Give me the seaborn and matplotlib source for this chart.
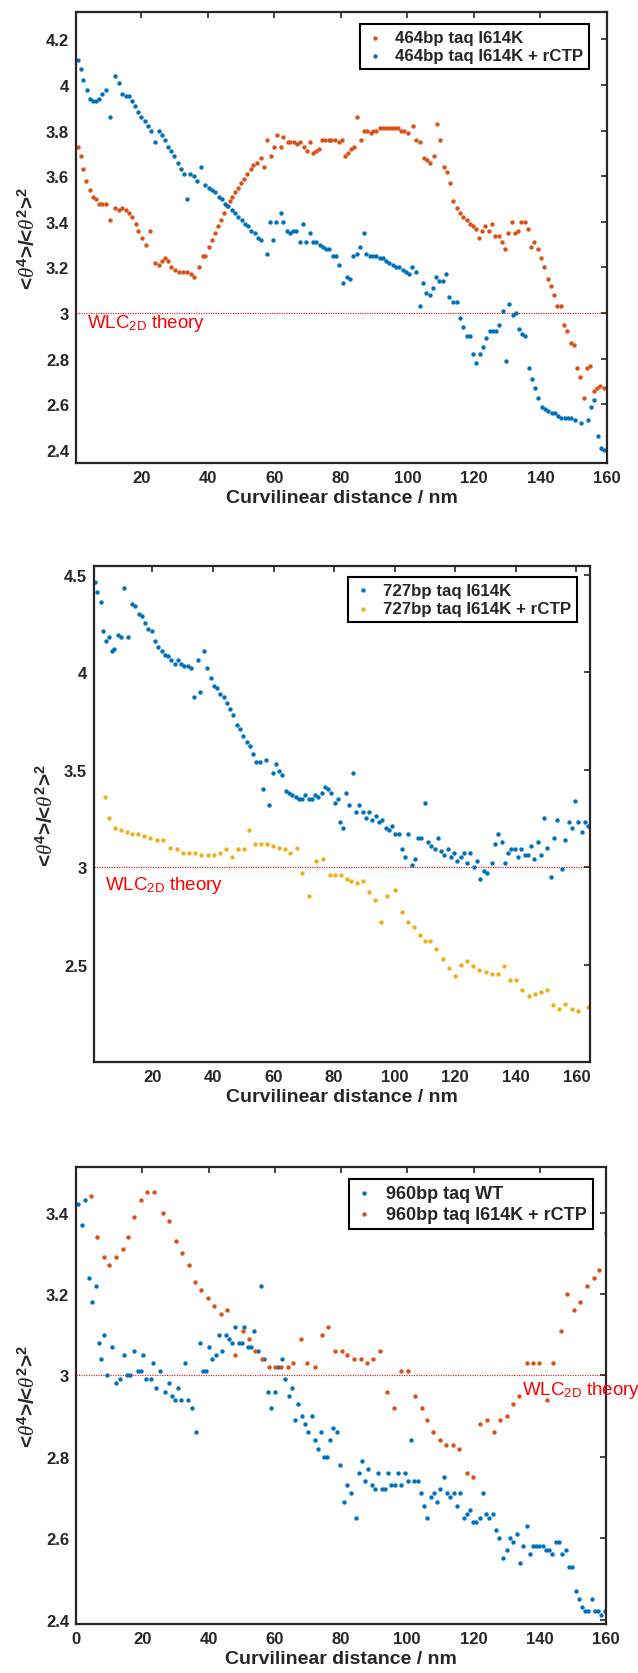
import matplotlib
matplotlib.use('Agg')
import matplotlib.pyplot as plt
import seaborn as sns
from matplotlib.ticker import FuncFormatter

# ---- data ----
# panel 1: 464bp
p1_orange_x = [0.9, 1.8, 2.6, 3.4, 4.5, 5.5, 6.5, 7.3, 8.3, 9.4,
               10.6, 12.2, 13.2, 14.3, 15.3, 16.3, 17.2, 18.4, 19.0, 20.2,
               21.5, 22.7, 24.0, 25.2, 26.2, 27.1, 28.0, 28.9, 30.1, 31.3,
               32.6, 33.8, 35.0, 36.0, 37.5, 38.7, 39.3, 40.3, 41.2, 42.2,
               43.0, 44.0, 44.9, 45.7, 46.6, 47.3, 48.3, 49.2, 50.0, 51.0,
               51.9, 52.9, 53.7, 54.7, 56.0, 57.0, 57.9, 58.9, 59.9, 60.9,
               61.9, 62.7, 64.0, 64.8, 65.8, 66.8, 67.8, 68.8, 69.7, 70.7,
               71.7, 72.6, 73.4, 74.4, 75.3, 76.3, 77.1, 78.1, 79.4, 80.2,
               81.2, 82.2, 83.0, 84.0, 85.0, 86.1, 87.0, 88.0, 89.0, 89.8,
               90.7, 91.7, 92.6, 93.5, 94.5, 95.4, 96.3, 97.2, 98.2, 99.0,
               100.3, 101.8, 102.7, 103.7, 105.0, 105.8, 106.8, 108.0, 108.9, 109.9,
               110.9, 111.9, 112.8, 113.8, 114.8, 115.8, 116.8, 117.8, 118.8, 119.7,
               120.7, 121.5, 122.5, 123.4, 124.4, 125.4, 126.4, 127.4, 128.4, 129.3,
               130.3, 131.3, 132.3, 133.3, 134.3, 135.3, 136.2, 137.2, 138.2, 139.2,
               140.2, 141.2, 142.2, 143.1, 144.1, 145.1, 146.1, 147.1, 148.1, 149.1,
               150.1, 151.1, 152.0, 153.0, 154.0, 155.0, 156.0, 157.0, 158.0, 159.0,
               160.0]
p1_orange_y = [3.73, 3.69, 3.63, 3.58, 3.54, 3.51, 3.50, 3.48, 3.48, 3.48,
               3.41, 3.46, 3.45, 3.46, 3.45, 3.44, 3.42, 3.39, 3.36, 3.33,
               3.30, 3.36, 3.22, 3.21, 3.23, 3.24, 3.23, 3.20, 3.19, 3.18,
               3.18, 3.18, 3.17, 3.16, 3.20, 3.25, 3.25, 3.29, 3.32, 3.35,
               3.38, 3.41, 3.44, 3.47, 3.49, 3.51, 3.53, 3.55, 3.57, 3.59,
               3.61, 3.63, 3.65, 3.66, 3.68, 3.64, 3.76, 3.69, 3.73, 3.78,
               3.73, 3.77, 3.75, 3.75, 3.75, 3.74, 3.75, 3.73, 3.71, 3.75,
               3.70, 3.71, 3.72, 3.76, 3.76, 3.76, 3.76, 3.76, 3.75, 3.76,
               3.69, 3.70, 3.72, 3.73, 3.86, 3.76, 3.80, 3.80, 3.79, 3.80,
               3.80, 3.81, 3.81, 3.81, 3.81, 3.81, 3.81, 3.81, 3.80, 3.80,
               3.79, 3.82, 3.76, 3.75, 3.68, 3.67, 3.66, 3.69, 3.83, 3.76,
               3.64, 3.62, 3.57, 3.49, 3.46, 3.44, 3.42, 3.41, 3.39, 3.38,
               3.37, 3.33, 3.36, 3.38, 3.36, 3.39, 3.34, 3.34, 3.31, 3.28,
               3.35, 3.40, 3.35, 3.36, 3.40, 3.40, 3.37, 3.29, 3.31, 3.28,
               3.24, 3.20, 3.15, 3.12, 3.08, 3.03, 3.03, 2.95, 2.92, 2.87,
               2.86, 2.76, 2.72, 2.63, 2.76, 2.77, 2.66, 2.67, 2.68, 2.67,
               2.67]
p1_blue_x = [0.9, 1.8, 2.6, 3.6, 4.5, 5.5, 6.5, 7.3, 8.3, 9.4,
             10.6, 12.2, 13.2, 14.3, 15.3, 16.3, 17.2, 18.2, 19.0, 20.0,
             21.0, 22.0, 23.0, 24.0, 25.2, 26.2, 27.1, 28.0, 29.0, 30.0,
             31.0, 32.0, 33.0, 33.9, 34.8, 35.8, 36.7, 38.1, 39.3, 40.3,
             41.3, 42.3, 43.3, 44.3, 45.2, 46.2, 47.2, 48.2, 49.2, 50.2,
             51.2, 52.1, 53.1, 54.1, 55.1, 56.1, 57.8, 58.7, 59.6, 60.6,
             61.9, 62.7, 63.7, 64.7, 65.6, 66.6, 67.7, 68.6, 69.6, 70.6,
             71.6, 72.6, 73.6, 74.6, 75.5, 76.5, 77.5, 78.5, 79.5, 80.8,
             81.8, 82.8, 83.8, 84.8, 85.8, 87.0, 87.7, 88.7, 89.7, 90.7,
             91.7, 92.6, 93.6, 94.6, 95.6, 96.6, 97.6, 98.6, 99.5, 100.5,
             101.5, 102.5, 103.7, 104.7, 105.7, 106.7, 107.7, 108.7, 109.6, 110.6,
             111.6, 112.6, 113.8, 114.8, 115.8, 116.8, 117.8, 118.8, 119.7, 120.7,
             121.7, 122.7, 123.7, 124.7, 125.7, 126.7, 127.6, 128.6, 129.6, 130.6,
             131.6, 132.5, 133.5, 134.5, 135.5, 136.5, 137.5, 138.5, 139.4, 140.4,
             141.4, 142.4, 143.4, 144.4, 145.4, 146.3, 147.3, 148.3, 149.3, 150.3,
             152.3, 154.2, 155.2, 156.2, 157.2, 158.2, 159.1]
p1_blue_y = [4.11, 4.07, 4.02, 3.98, 3.94, 3.93, 3.93, 3.94, 3.96, 3.98,
             3.86, 4.04, 4.01, 3.96, 3.95, 3.95, 3.93, 3.91, 3.88, 3.86,
             3.84, 3.82, 3.80, 3.75, 3.80, 3.78, 3.76, 3.73, 3.71, 3.69,
             3.66, 3.63, 3.61, 3.50, 3.61, 3.60, 3.58, 3.64, 3.56, 3.55,
             3.54, 3.53, 3.51, 3.50, 3.48, 3.47, 3.45, 3.44, 3.42, 3.41,
             3.39, 3.38, 3.36, 3.35, 3.33, 3.32, 3.26, 3.40, 3.32, 3.40,
             3.44, 3.40, 3.36, 3.35, 3.36, 3.36, 3.31, 3.39, 3.31, 3.35,
             3.31, 3.31, 3.30, 3.29, 3.28, 3.28, 3.25, 3.25, 3.21, 3.13,
             3.16, 3.15, 3.25, 3.26, 3.29, 3.35, 3.26, 3.25, 3.25, 3.25,
             3.24, 3.24, 3.23, 3.22, 3.21, 3.20, 3.20, 3.19, 3.18, 3.17,
             3.20, 3.18, 3.03, 3.13, 3.09, 3.08, 3.11, 3.16, 3.14, 3.14,
             3.17, 3.07, 3.05, 3.05, 2.98, 2.94, 2.90, 2.90, 2.82, 2.78,
             2.82, 2.85, 2.89, 2.92, 2.92, 2.92, 2.95, 3.01, 2.79, 3.04,
             2.99, 3.00, 2.93, 2.91, 2.90, 2.76, 2.71, 2.67, 2.63, 2.59,
             2.58, 2.57, 2.56, 2.56, 2.55, 2.54, 2.54, 2.54, 2.54, 2.53,
             2.52, 2.53, 2.59, 2.62, 2.46, 2.41, 2.40]

# panel 2: 727bp
p2_blue_x = [1.1, 1.8, 2.9, 3.8, 4.7, 5.6, 6.6, 7.4, 8.5, 9.6,
             10.7, 12.0, 13.2, 14.3, 15.4, 16.5, 17.6, 18.6, 19.7, 20.8,
             21.9, 23.0, 24.0, 25.1, 26.2, 27.3, 28.4, 29.5, 30.5, 31.6,
             32.8, 33.8, 34.9, 35.8, 36.9, 38.1, 39.2, 40.3, 41.3, 42.4,
             43.5, 44.6, 45.7, 46.7, 47.8, 48.9, 50.0, 51.1, 52.1, 53.2,
             54.3, 55.4, 56.5, 57.5, 58.6, 59.7, 60.8, 61.9, 62.9, 64.0,
             65.1, 66.2, 67.3, 68.3, 69.4, 70.5, 71.6, 72.7, 73.7, 74.8,
             75.9, 77.0, 78.0, 79.1, 80.2, 81.3, 82.1, 82.9, 83.9, 85.0,
             86.2, 87.2, 88.3, 89.4, 90.5, 91.6, 92.6, 93.7, 94.8, 95.9,
             97.0, 98.0, 99.1, 100.2, 101.3, 102.3, 103.4, 104.5, 105.6, 106.7,
             107.8, 108.8, 109.9, 111.0, 112.1, 113.2, 114.2, 115.3, 116.4, 117.5,
             118.6, 119.6, 120.7, 121.8, 122.9, 124.0, 125.0, 126.1, 127.2, 128.3,
             129.4, 130.4, 132.0, 133.1, 134.2, 135.3, 136.3, 137.5, 138.5, 139.6,
             140.7, 141.8, 142.9, 144.0, 145.0, 146.1, 147.2, 148.3, 149.3, 150.4,
             151.5, 152.6, 153.7, 155.4, 156.4, 157.4, 158.5, 159.6, 160.7, 161.7,
             162.8, 163.9]
p2_blue_y = [4.46, 4.41, 4.36, 4.21, 4.16, 4.18, 4.11, 4.12, 4.19, 4.18,
             4.43, 4.18, 4.35, 4.34, 4.30, 4.29, 4.25, 4.22, 4.21, 4.16,
             4.13, 4.11, 4.09, 4.08, 4.06, 4.04, 4.06, 4.04, 4.03, 4.03,
             4.02, 3.87, 4.06, 3.90, 4.11, 4.02, 3.97, 3.93, 3.92, 3.89,
             3.87, 3.84, 3.81, 3.78, 3.73, 3.71, 3.67, 3.64, 3.62, 3.58,
             3.54, 3.54, 3.40, 3.55, 3.32, 3.48, 3.53, 3.49, 3.47, 3.39,
             3.38, 3.37, 3.36, 3.35, 3.35, 3.37, 3.35, 3.35, 3.37, 3.36,
             3.38, 3.41, 3.40, 3.38, 3.33, 3.35, 3.23, 3.20, 3.38, 3.32,
             3.48, 3.28, 3.32, 3.28, 3.25, 3.28, 3.24, 3.26, 3.23, 3.24,
             3.20, 3.19, 3.21, 3.17, 3.17, 3.09, 3.05, 3.17, 3.01, 3.04,
             3.15, 3.15, 3.33, 3.13, 3.11, 3.09, 3.15, 3.08, 3.06, 3.09,
             3.05, 3.07, 3.03, 3.05, 3.07, 3.02, 3.07, 3.00, 3.03, 2.94,
             2.98, 2.97, 3.02, 3.12, 3.17, 3.13, 3.02, 3.07, 3.09, 3.09,
             3.05, 3.09, 3.06, 3.06, 3.11, 3.04, 3.13, 3.06, 3.25, 3.10,
             2.95, 3.15, 3.24, 2.99, 3.14, 3.23, 3.20, 3.34, 3.23, 3.18,
             3.23, 3.21]
p2_yellow_x = [4.2, 5.8, 7.8, 9.6, 11.5, 13.2, 15.3, 17.3, 19.3, 21.4,
               23.4, 25.8, 28.1, 30.1, 32.2, 34.2, 36.2, 38.2, 40.3, 42.3,
               44.3, 46.3, 48.4, 50.4, 52.0, 53.8, 55.8, 57.8, 59.8, 61.9,
               63.9, 65.5, 67.7, 69.5, 71.7, 74.0, 76.3, 78.5, 80.3, 82.2,
               84.1, 85.7, 87.6, 89.5, 91.6, 93.6, 95.6, 97.6, 100.0, 102.3,
               104.4, 106.4, 108.2, 110.0, 111.8, 113.8, 115.9, 117.9, 119.9, 122.0,
               124.0, 126.0, 128.0, 130.0, 132.1, 134.1, 136.1, 138.1, 140.2, 142.2,
               144.2, 146.2, 148.3, 150.3, 152.3, 154.3, 156.4, 158.4, 160.4, 163.8]
p2_yellow_y = [3.36, 3.25, 3.20, 3.19, 3.18, 3.17, 3.17, 3.16, 3.15, 3.14,
               3.14, 3.10, 3.09, 3.07, 3.07, 3.07, 3.06, 3.06, 3.06, 3.07,
               3.09, 3.05, 3.09, 3.09, 3.19, 3.12, 3.12, 3.12, 3.11, 3.10,
               3.09, 3.07, 3.10, 2.97, 2.85, 3.03, 3.04, 2.96, 2.96, 2.96,
               2.94, 2.93, 2.92, 2.93, 2.87, 2.83, 2.72, 2.85, 2.88, 2.77,
               2.72, 2.69, 2.65, 2.62, 2.62, 2.58, 2.53, 2.48, 2.44, 2.50,
               2.52, 2.49, 2.47, 2.46, 2.45, 2.45, 2.49, 2.42, 2.42, 2.37,
               2.34, 2.35, 2.36, 2.37, 2.29, 2.27, 2.30, 2.27, 2.26, 2.28]

# panel 3: 960bp
p3_blue_x = [0.6, 1.9, 2.7, 3.9, 4.9, 5.9, 6.8, 7.6, 8.6, 9.5,
             10.9, 12.2, 13.4, 14.4, 15.4, 16.3, 17.5, 18.8, 19.5, 20.2,
             21.2, 22.5, 23.3, 24.3, 25.5, 26.8, 28.0, 28.9, 29.9, 30.8,
             31.8, 32.9, 33.9, 35.0, 36.3, 37.3, 38.2, 39.2, 40.2, 41.2,
             42.2, 43.2, 44.2, 45.2, 46.1, 47.1, 48.1, 49.1, 50.1, 50.8,
             51.8, 52.8, 53.8, 54.8, 55.8, 56.7, 58.0, 59.0, 60.0, 60.9,
             62.2, 63.2, 64.2, 65.1, 66.1, 67.1, 68.1, 69.1, 70.1, 71.1,
             72.0, 73.0, 74.0, 75.0, 75.7, 76.7, 77.7, 78.7, 79.7, 80.9,
             81.9, 82.9, 84.4, 85.4, 86.4, 87.3, 88.3, 89.3, 90.3, 91.3,
             92.3, 93.3, 94.3, 95.2, 96.2, 97.2, 98.2, 99.2, 100.2, 101.2,
             102.1, 103.1, 104.1, 105.1, 106.1, 107.1, 108.1, 109.1, 110.0, 111.0,
             112.0, 113.0, 114.0, 115.0, 116.0, 117.0, 118.0, 118.9, 119.9, 120.9,
             121.9, 122.9, 123.9, 124.8, 125.8, 126.8, 127.8, 129.0, 130.0, 131.0,
             132.0, 133.0, 134.0, 135.0, 136.0, 137.0, 137.9, 138.9, 139.9, 140.9,
             141.9, 142.9, 143.8, 144.8, 145.8, 146.8, 147.8, 148.8, 149.8, 150.8,
             151.7, 152.7, 153.7, 154.7, 155.7, 156.7, 157.7, 158.6, 159.6]
p3_blue_y = [3.42, 3.37, 3.43, 3.24, 3.18, 3.22, 3.08, 3.04, 3.10, 3.00,
             3.07, 2.98, 2.99, 3.05, 3.00, 3.00, 3.06, 3.01, 3.01, 3.05,
             2.99, 2.99, 3.03, 2.97, 3.01, 2.96, 2.98, 2.95, 2.94, 2.97,
             2.94, 3.03, 2.94, 2.92, 2.86, 3.08, 3.01, 3.01, 3.07, 3.04,
             3.05, 3.10, 3.06, 3.10, 3.09, 3.08, 3.12, 3.08, 3.08, 3.12,
             3.07, 3.07, 3.11, 3.06, 3.22, 3.04, 2.96, 2.92, 2.96, 3.02,
             3.04, 2.99, 2.95, 2.97, 2.89, 2.93, 2.90, 2.88, 2.86, 2.90,
             2.84, 2.82, 2.86, 2.80, 2.80, 2.84, 2.87, 2.86, 2.78, 2.69,
             2.73, 2.71, 2.65, 2.76, 2.79, 2.74, 2.77, 2.73, 2.72, 2.76,
             2.72, 2.72, 2.76, 2.73, 2.73, 2.76, 2.73, 2.76, 2.74, 2.84,
             2.74, 2.74, 2.71, 2.68, 2.65, 2.70, 2.71, 2.69, 2.72, 2.75,
             2.71, 2.70, 2.71, 2.68, 2.71, 2.65, 2.66, 2.67, 2.64, 2.64,
             2.65, 2.71, 2.66, 2.65, 2.66, 2.62, 2.60, 2.55, 2.57, 2.60,
             2.59, 2.61, 2.54, 2.58, 2.63, 2.56, 2.58, 2.58, 2.58, 2.58,
             2.57, 2.57, 2.56, 2.59, 2.59, 2.56, 2.57, 2.53, 2.53, 2.47,
             2.45, 2.43, 2.42, 2.42, 2.45, 2.42, 2.42, 2.41, 2.42]
p3_orange_x = [4.4, 6.2, 8.4, 10.1, 12.1, 14.1, 15.8, 17.5, 19.7, 21.5,
               23.4, 26.2, 28.1, 30.1, 32.1, 34.0, 36.0, 37.7, 39.7, 41.7,
               43.7, 45.6, 47.9, 50.3, 52.1, 54.0, 56.0, 58.2, 60.2, 61.9,
               63.9, 65.6, 67.9, 69.8, 72.0, 74.3, 76.2, 78.2, 80.2, 81.9,
               83.9, 85.9, 87.8, 89.8, 91.8, 93.8, 96.0, 98.2, 100.2, 102.4,
               104.4, 106.1, 107.8, 109.8, 111.8, 113.7, 115.7, 117.9, 119.9, 122.1,
               124.1, 126.1, 128.1, 130.0, 132.0, 133.7, 136.0, 137.9, 139.9, 142.1,
               144.0, 146.4, 148.3, 150.3, 152.1, 154.2, 156.3, 158.0, 160.0]
p3_orange_y = [3.44, 3.34, 3.29, 3.27, 3.29, 3.31, 3.34, 3.39, 3.43, 3.45,
               3.45, 3.40, 3.38, 3.33, 3.30, 3.27, 3.23, 3.21, 3.19, 3.17,
               3.15, 3.16, 3.05, 3.11, 3.09, 3.06, 3.04, 3.02, 3.02, 3.02,
               3.02, 3.03, 3.09, 3.03, 3.02, 3.10, 3.12, 3.06, 3.06, 3.05,
               3.04, 3.04, 3.03, 3.04, 3.06, 2.96, 2.92, 3.01, 3.01, 2.95,
               2.92, 2.89, 2.86, 2.84, 2.83, 2.83, 2.82, 2.76, 2.75, 2.88,
               2.89, 2.86, 2.89, 2.90, 2.93, 2.95, 3.03, 3.03, 3.03, 2.94,
               3.03, 3.11, 3.20, 3.16, 3.18, 3.22, 3.24, 3.26, 3.35]

labels_p1 = ['464bp taq I614K', '464bp taq I614K + rCTP']
labels_p2 = ['727bp taq I614K', '727bp taq I614K + rCTP']
labels_p3 = ['960bp taq WT', '960bp taq I614K + rCTP']

BLUE = '#0072BD'
ORANGE = '#D95319'
YELLOW = '#EDB120'

sns.set_theme(style='white')
plt.rcParams['font.family'] = ['Liberation Sans', 'DejaVu Sans']
plt.rcParams['mathtext.fontset'] = 'custom'
plt.rcParams['mathtext.rm'] = 'Liberation Sans'
plt.rcParams['mathtext.it'] = 'Liberation Serif:italic'
plt.rcParams['mathtext.bf'] = 'Liberation Sans:bold'

W, H = 638, 1674
YLABEL = r'<$\theta^{\mathbf{4}}$>/<$\theta^{\mathbf{2}}$>$^{\mathbf{2}}$'
WLC = r'WLC$_{\rm 2D}$ theory'


def box(left, right, top, bottom):
    return [left / W, 1 - bottom / H, (right - left) / W, (bottom - top) / H]


def style_panel(ax, xlim, ylim, xticks, yticks, wlc_x, wlc_y, anchor, legsize=12.2):
    ax.axhline(3, color='red', linestyle=(0, (1, 1.2)), linewidth=0.8, zorder=0)
    ax.text(wlc_x, wlc_y, WLC, color='red', fontsize=13.5,
            va='top', ha='left', clip_on=False)
    ax.set_xlim(*xlim)
    ax.set_ylim(*ylim)
    ax.set_xticks(xticks)
    ax.set_yticks(yticks)
    fmt = FuncFormatter(lambda v, p: f'{v:g}')
    ax.xaxis.set_major_formatter(fmt)
    ax.yaxis.set_major_formatter(fmt)
    ax.tick_params(direction='in', length=4, width=1.2, top=True, right=True,
                   labelsize=12, colors='#262626', pad=5)
    for lab in ax.get_xticklabels() + ax.get_yticklabels():
        lab.set_fontweight('bold')
    for sp in ax.spines.values():
        sp.set_linewidth(1.6)
        sp.set_color('#262626')
    ax.set_xlabel('Curvilinear distance / nm', fontsize=14, fontweight='bold',
                  color='#262626', labelpad=3)
    ax.set_ylabel(YLABEL, fontsize=15, fontweight='bold',
                  color='#262626', labelpad=5)
    leg = ax.legend(loc='upper right', bbox_to_anchor=anchor, borderaxespad=0,
                    prop={'weight': 'bold', 'size': legsize}, fancybox=False,
                    framealpha=1, edgecolor='black', handlelength=1.0,
                    handletextpad=0.7, borderpad=0.35, labelspacing=0.2,
                    markerscale=1.0)
    leg.get_frame().set_linewidth(1.5)


fig = plt.figure(figsize=(6.38, 16.74), dpi=100)
fig.patch.set_facecolor('white')

ax1 = fig.add_axes(box(76, 607, 13, 464))
ax2 = fig.add_axes(box(94, 590, 567, 1063))
ax3 = fig.add_axes(box(76, 606, 1168, 1625))

ms = 10
sns.scatterplot(x=p1_orange_x, y=p1_orange_y, ax=ax1, color=ORANGE, s=ms,
                linewidth=0, label=labels_p1[0])
sns.scatterplot(x=p1_blue_x, y=p1_blue_y, ax=ax1, color=BLUE, s=ms,
                linewidth=0, label=labels_p1[1])
style_panel(ax1, (0.4, 160), (2.343, 4.32), range(20, 161, 20),
            [2.4, 2.6, 2.8, 3.0, 3.2, 3.4, 3.6, 3.8, 4.0, 4.2],
            3.7, 3.006, (0.966, 0.973))

sns.scatterplot(x=p2_blue_x, y=p2_blue_y, ax=ax2, color=BLUE, s=ms,
                linewidth=0, label=labels_p2[0])
sns.scatterplot(x=p2_yellow_x, y=p2_yellow_y, ax=ax2, color=YELLOW, s=ms,
                linewidth=0, label=labels_p2[1])
style_panel(ax2, (0.7, 164.5), (2.0, 4.544), range(20, 161, 20),
            [2.5, 3.0, 3.5, 4.0, 4.5], 4.2, 2.965, (0.974, 0.978))

sns.scatterplot(x=p3_blue_x, y=p3_blue_y, ax=ax3, color=BLUE, s=ms,
                linewidth=0, label=labels_p3[0])
sns.scatterplot(x=p3_orange_x, y=p3_orange_y, ax=ax3, color=ORANGE, s=ms,
                linewidth=0, label=labels_p3[1])
style_panel(ax3, (0, 160), (2.389, 3.512), range(0, 161, 20),
            [2.4, 2.6, 2.8, 3.0, 3.2, 3.4], 134.5, 2.99, (0.975, 0.974),
            legsize=13)

fig.savefig('out.png', dpi=100)
